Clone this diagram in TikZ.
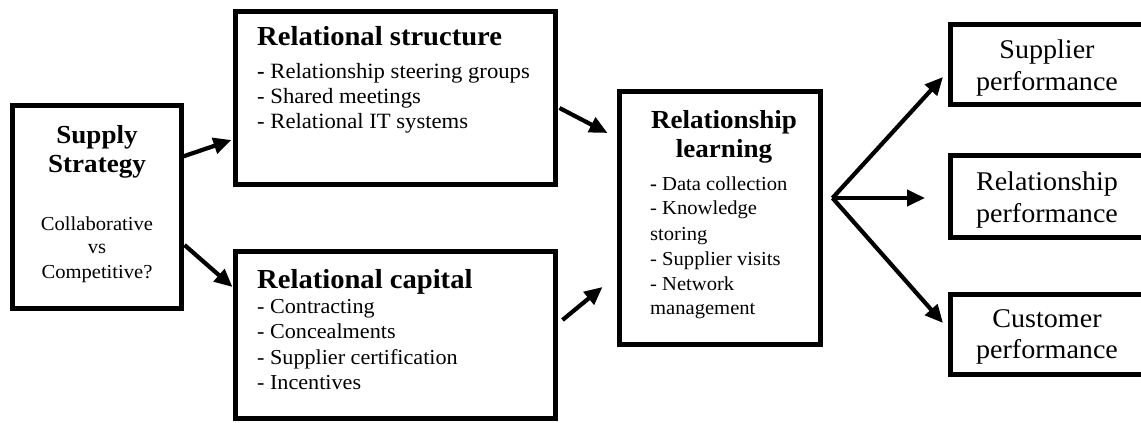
\documentclass[tikz,border=0pt]{standalone}
\usepackage{fontspec}
\setmainfont{Liberation Serif}[FakeStretch=1.04]
\usetikzlibrary{arrows.meta}
\begin{document}
\begin{tikzpicture}[x=1pt,y=-1pt,
  box/.style={draw=black, line width=5pt, rectangle, inner sep=0pt, outer sep=0pt, fill=white},
  arr/.style={line width=4.2pt, -{Triangle[length=18pt,width=16pt]}},
  ttl/.style={font=\fontsize{27.5}{30}\selectfont\bfseries, inner sep=0pt},
  ttlb/.style={font=\fontsize{26}{30}\selectfont\bfseries, inner sep=0pt},
  itm/.style={font=\fontsize{21.8}{25}\selectfont, inner sep=0pt, anchor=base west},
  itmc/.style={font=\fontsize{21.3}{25}\selectfont, inner sep=0pt, anchor=base west},
  itml/.style={font=\fontsize{19.8}{25}\selectfont, inner sep=0pt, anchor=base west},
  rt/.style={font=\fontsize{27}{30}\selectfont, inner sep=0pt, anchor=base},
  ctr/.style={font=\fontsize{19.8}{25}\selectfont, inner sep=0pt, anchor=base}
]
\useasboundingbox (0,0) rectangle (1141,423);
\clip (0,0) rectangle (1141,423);

% boxes
\node[box, minimum width=169pt, minimum height=203pt] (supply) at (97,207) {};
\node[box, minimum width=320pt, minimum height=173pt] (struct) at (395.5,98) {};
\node[box, minimum width=320pt, minimum height=167pt] (capital) at (395.5,335) {};
\node[box, minimum width=201pt, minimum height=253pt] (learn) at (720,218) {};
\node[box, minimum width=220pt, minimum height=80pt] (supp) at (1060,64.5) {};
\node[box, minimum width=220pt, minimum height=82pt] (relp) at (1060,196.5) {};
\node[box, minimum width=220pt, minimum height=80pt] (cust) at (1060,334.5) {};

% supply text
\node[ttlb, anchor=base] (s1) at (97,143) {Supply};
\node[ttlb, anchor=base] (s2) at (97,172) {Strategy};
\node[ctr] (s3) at (97,230) {Collaborative};
\node[ctr] (s4) at (97,253) {vs};
\node[ctr] (s5) at (97,278) {Competitive?};

% relational structure
\node[ttl, anchor=base west] (t1) at (257,45) {Relational structure};
\node[itm] (t2) at (257,78) {\textbf{-} Relationship steering groups};
\node[itm] (t3) at (257,103) {- Shared meetings};
\node[itm] (t4) at (257,128) {- Relational IT systems};

% relational capital
\node[ttl, anchor=base west] (c1) at (257,288) {Relational capital};
\node[itmc] (c2) at (257,313) {- Contracting};
\node[itmc] (c3) at (257,338) {- Concealments};
\node[itmc] (c4) at (257,364) {- Supplier certification};
\node[itmc] (c5) at (257,389) {- Incentives};

% relationship learning
\node[ttlb, anchor=base] (l1) at (724,128) {Relationship};
\node[ttlb, anchor=base] (l2) at (724,157) {learning};
\node[itml] (l3) at (650,190) {\textbf{-} Data collection};
\node[itml] (l4) at (650,214) {- Knowledge};
\node[itml] (l5) at (650,240) {storing};
\node[itml] (l6) at (650,265) {- Supplier visits};
\node[itml] (l7) at (650,290) {- Network};
\node[itml] (l8) at (650,314) {management};

% right boxes
\node[rt] (r1) at (1047,58) {Supplier};
\node[rt] (r2) at (1047,90) {performance};
\node[rt] (r3) at (1047,190) {Relationship};
\node[rt] (r4) at (1047,222) {performance};
\node[rt] (r5) at (1047,327) {Customer};
\node[rt] (r6) at (1047,358) {performance};

% arrows
\draw[arr] ([yshift=50pt]supply.east) -- ([xshift=-4pt,yshift=-42pt]struct.west);
\draw[arr] ([xshift=3pt,yshift=-38pt]supply.east) -- ([xshift=-3pt,yshift=48pt]capital.west);
\draw[arr] ([xshift=4pt,yshift=-10pt]struct.east) -- ([xshift=-12pt,yshift=85pt]learn.west);
\draw[arr] ([xshift=7pt,yshift=15pt]capital.east) -- ([xshift=-17pt,yshift=-69pt]learn.west);
\coordinate (fan) at ([xshift=12pt,yshift=20pt]learn.east);
\draw[arr, line join=round] (fan) -- ([xshift=-7pt,yshift=-12.5pt]supp.west);
\draw[arr] (fan) -- ([xshift=-25pt,yshift=-1.5pt]relp.west);
\draw[arr] (fan) -- ([xshift=-7pt,yshift=11.5pt]cust.west);
\end{tikzpicture}
\end{document}
